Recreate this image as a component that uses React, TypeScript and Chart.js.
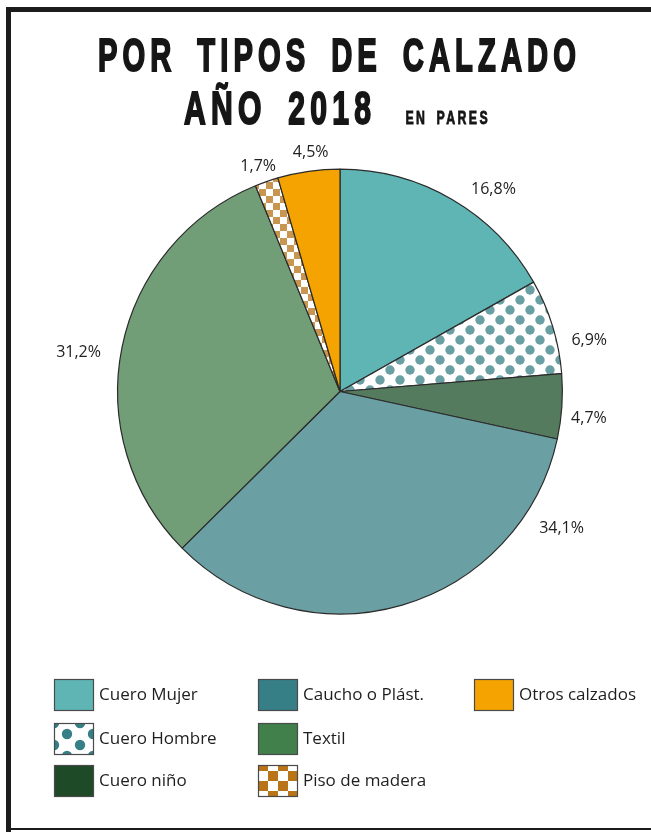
import React, { useEffect, useRef } from 'react';
import { Chart, registerables } from 'chart.js';

Chart.register(...registerables);

// ---------- data ----------
const categories = [
  'Cuero Mujer',
  'Cuero Hombre',
  'Cuero niño',
  'Caucho o Plást.',
  'Textil',
  'Piso de madera',
  'Otros calzados',
];
const shares = [16.8, 6.9, 4.7, 34.1, 31.2, 1.7, 4.5];
const titleLine1 = 'POR TIPOS DE CALZADO';
const titleLine2 = 'AÑO 2018';
const titleUnit = 'EN PARES';

// ---------- styles ----------
const fillKind = ['solid', 'dots', 'solid', 'solid', 'solid', 'checks', 'solid'];
const sliceColors = ['#5eb5b3', '#6a9fa4', '#557b5e', '#6a9fa4', '#719d77', '#c89650', '#f5a300'];
const legendColors = ['#5fb5b4', '#367f87', '#1f4a27', '#367f87', '#417f4b', '#b87417', '#f5a300'];
// label placement relative to each slice's mid angle (degrees clockwise) and gap beyond the rim
const labelAngleShift = [7.0, 5.5, 2.3, -42.1, -2.9, -0.7, 1.1];
const labelGap = [31, 32, 28, 38, 42, 17, 18];

function fmtShare(v: number) {
  return v.toFixed(1).replace('.', ',') + '%';
}

function makeDots(color: string, w: number, h: number, r: number) {
  const c = document.createElement('canvas');
  c.width = w;
  c.height = h;
  const g = c.getContext('2d')!;
  g.fillStyle = '#ffffff';
  g.fillRect(0, 0, w, h);
  g.fillStyle = color;
  const pts = [
    [0, 0], [w, 0], [0, h], [w, h], [w / 2, h / 2],
  ];
  pts.forEach(([x, y]) => {
    g.beginPath();
    g.arc(x, y, r, 0, Math.PI * 2);
    g.fill();
  });
  return c;
}

function makeChecks(color: string, s: number) {
  const c = document.createElement('canvas');
  c.width = s * 2;
  c.height = s * 2;
  const g = c.getContext('2d')!;
  g.fillStyle = '#ffffff';
  g.fillRect(0, 0, s * 2, s * 2);
  g.fillStyle = color;
  g.fillRect(0, 0, s, s);
  g.fillRect(s, s, s, s);
  return c;
}

export default function App() {
  const ref = useRef<HTMLCanvasElement | null>(null);

  useEffect(() => {
    const canvas = ref.current;
    if (!canvas) return;
    const ctx0 = canvas.getContext('2d')!;

    const pieDots = ctx0.createPattern(makeDots(sliceColors[1], 20, 20, 4.7), 'repeat')!;
    const pieChecks = ctx0.createPattern(makeChecks(sliceColors[5], 7), 'repeat')!;
    const fills = fillKind.map((k, i) =>
      k === 'dots' ? pieDots : k === 'checks' ? pieChecks : sliceColors[i]
    );

    const legDotsTile = makeDots(legendColors[1], 26, 22, 5.2);
    const legChecksTile = makeChecks(legendColors[5], 10);

    const framePlugin = {
      id: 'frame',
      beforeDraw(chart: any) {
        const ctx = chart.ctx as CanvasRenderingContext2D;
        ctx.save();
        ctx.fillStyle = '#ffffff';
        ctx.fillRect(0, 0, chart.width, chart.height);
        ctx.fillStyle = '#1c1c1c';
        ctx.fillRect(6, 7, chart.width - 6, 5);
        ctx.fillRect(6, 7, 5, chart.height - 7);
        ctx.fillRect(6, 828, chart.width - 6, 2);
        ctx.restore();
      },
    };

    const drawFitted = (
      ctx: CanvasRenderingContext2D,
      text: string,
      left: number,
      right: number,
      baseline: number,
      font: string,
      spacing: number,
      wordSpacing: number,
      stroke: number
    ) => {
      ctx.save();
      ctx.font = font;
      (ctx as any).letterSpacing = spacing + 'px';
      (ctx as any).wordSpacing = wordSpacing + 'px';
      const w = ctx.measureText(text).width - spacing;
      const sx = (right - left - stroke) / w;
      ctx.translate(left + stroke / 2, baseline);
      ctx.scale(sx, 1);
      ctx.textAlign = 'left';
      ctx.textBaseline = 'alphabetic';
      ctx.fillText(text, 0, 0);
      if (stroke > 0) {
        ctx.lineWidth = stroke;
        ctx.lineJoin = 'miter';
        ctx.strokeText(text, 0, 0);
      }
      ctx.restore();
    };

    const titlePlugin = {
      id: 'titles',
      afterDraw(chart: any) {
        const ctx = chart.ctx as CanvasRenderingContext2D;
        ctx.save();
        ctx.fillStyle = '#161616';
        ctx.strokeStyle = '#161616';
        const big = 'bold 46px "Liberation Sans Narrow", "Liberation Sans", sans-serif';
        drawFitted(ctx, titleLine1, 97, 577, 71, big, 8, 12, 2);
        drawFitted(ctx, titleLine2, 183, 372, 124, big, 8, 12, 2);
        drawFitted(ctx, titleUnit, 405, 488, 124, 'bold 18px "Liberation Sans Narrow", "Liberation Sans", sans-serif', 3.5, 5, 0.8);
        ctx.restore();
      },
    };

    const labelPlugin = {
      id: 'sliceLabels',
      afterDatasetsDraw(chart: any) {
        const meta = chart.getDatasetMeta(0);
        const ctx = chart.ctx as CanvasRenderingContext2D;
        ctx.save();
        ctx.font = '16px "Open Sans", "Noto Sans", sans-serif';
        ctx.fillStyle = '#222222';
        ctx.textAlign = 'center';
        ctx.textBaseline = 'middle';
        meta.data.forEach((arc: any, i: number) => {
          const p = arc.getProps(['x', 'y', 'startAngle', 'endAngle', 'outerRadius'], true);
          const mid = (p.startAngle + p.endAngle) / 2 + (labelAngleShift[i] * Math.PI) / 180;
          const r = p.outerRadius + labelGap[i];
          const v = chart.data.datasets[0].data[i] as number;
          ctx.fillText(fmtShare(v), p.x + Math.cos(mid) * r, p.y + Math.sin(mid) * r);
        });
        ctx.restore();
      },
    };

    const legendPlugin = {
      id: 'gridLegend',
      afterDraw(chart: any) {
        const ctx = chart.ctx as CanvasRenderingContext2D;
        const colX = [54, 258, 474];
        const rowY = [695, 739, 781];
        const bw = 40;
        const bh = 32;
        ctx.save();
        categories.forEach((name, i) => {
          const x = colX[Math.floor(i / 3)];
          const yc = rowY[i % 3];
          const y = yc - bh / 2;
          let fill: any = legendColors[i];
          if (fillKind[i] === 'dots') {
            const pat = ctx.createPattern(legDotsTile, 'repeat')!;
            pat.setTransform(new DOMMatrix([1, 0, 0, 1, x, y]));
            fill = pat;
          } else if (fillKind[i] === 'checks') {
            const pat = ctx.createPattern(legChecksTile, 'repeat')!;
            pat.setTransform(new DOMMatrix([1, 0, 0, 1, x, y - 4]));
            fill = pat;
          }
          ctx.fillStyle = fill;
          ctx.fillRect(x, y, bw, bh);
          ctx.strokeStyle = '#4a4a4a';
          ctx.lineWidth = 1.2;
          ctx.strokeRect(x + 0.5, y + 0.5, bw - 1, bh - 1);
          ctx.fillStyle = '#1e1e1e';
          ctx.font = '17px "Open Sans", "Noto Sans", sans-serif';
          ctx.textAlign = 'left';
          ctx.textBaseline = 'middle';
          ctx.fillText(name, x + bw + 5, yc);
        });
        ctx.restore();
      },
    };

    const chart = new Chart(canvas, {
      type: 'pie',
      data: {
        labels: categories,
        datasets: [
          {
            data: shares,
            backgroundColor: fills as any,
            borderColor: '#2b2b2b',
            borderWidth: 1.2,
          },
        ],
      },
      options: {
        responsive: false,
        animation: false,
        events: [],
        layout: { padding: { left: 117, right: 88, top: 168, bottom: 217 } },
        plugins: {
          legend: { display: false },
          tooltip: { enabled: false },
          title: { display: false },
        },
      },
      plugins: [framePlugin, labelPlugin, legendPlugin, titlePlugin],
    });

    return () => chart.destroy();
  }, []);

  return (
    <div style={{ position: 'fixed', left: 0, top: 0, width: 651, height: 832, background: '#fff' }}>
      <canvas ref={ref} width={651} height={832} style={{ display: 'block' }} />
    </div>
  );
}
